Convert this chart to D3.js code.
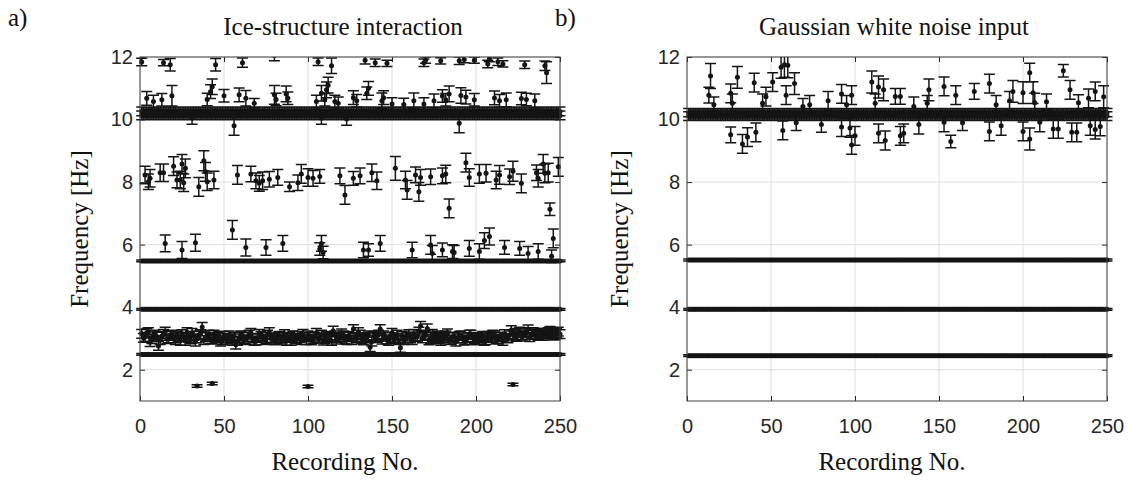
<!DOCTYPE html>
<html>
<head>
<meta charset="utf-8">
<script src="https://cdn.jsdelivr.net/npm/d3@7"></script>
<style>
  body { margin: 0; background: #fff; }
  svg { display: block; }
</style>
</head>
<body>
<svg id="chart" width="1129" height="480"></svg>
<script>
// recordings 1..250 on the x axis
const recordings = d3.range(1, 251);
const xTicks = [0, 50, 100, 150, 200, 250];
const yTicks = [2, 4, 6, 8, 10, 12];

// a) modes that show up in every recording: frequency level and error half-width
// (the 10 Hz band is read as two overlapping levels)
const denseLevelsA = [2.49, 3.93, 5.48, 10.13, 10.26];
const denseErrA = [0.03, 0.03, 0.03, 0.14, 0.14];

// a) scattered 3 Hz mode, odd and even recordings
const mode3OddRecA = d3.range(1, 250, 2);
const mode3OddFreqA = [
  3.15, 3.05, 3.20, 2.98, 3.10, 2.76, 3.08, 3.22, 3.00, 3.12,
  2.95, 3.05, 3.14, 2.92, 3.02, 3.18, 2.90, 3.10, 3.37, 3.04,
  3.12, 2.96, 3.00, 3.08, 2.94, 3.02, 3.10, 2.92, 2.80, 3.00,
  3.06, 2.95, 3.12, 3.00, 2.93, 3.15, 3.04, 2.98, 3.20, 3.02,
  2.96, 3.08, 3.00, 2.92, 3.05, 3.10, 2.97, 3.02, 3.15, 2.95,
  3.05, 2.99, 3.18, 3.00, 2.93, 3.08, 3.02, 3.25, 2.96, 3.04,
  3.10, 2.95, 3.05, 3.30, 3.00, 3.12, 2.94, 3.05, 2.72, 3.08,
  3.02, 3.30, 3.10, 2.96, 3.04, 2.98, 3.12, 2.70, 2.95, 3.06,
  3.00, 3.15, 3.06, 3.40, 3.08, 3.32, 2.98, 3.05, 3.10, 2.92,
  3.02, 3.16, 2.95, 3.06, 3.00, 3.10, 2.93, 3.04, 3.12, 2.97,
  3.05, 3.00, 2.92, 3.08, 3.02, 3.10, 2.96, 3.04, 3.14, 3.00,
  3.27, 3.10, 3.18, 3.06, 3.20, 3.29, 3.12, 3.15, 3.08, 3.18,
  3.12, 3.20, 3.15, 3.10, 3.22
];
const mode3EvenRecA = d3.range(2, 251, 2);
const mode3EvenFreqA = [
  3.02, 3.18, 2.88, 3.12, 3.06, 2.95, 3.15, 2.98, 3.08, 3.00,
  3.10, 2.92, 3.05, 3.20, 2.97, 3.08, 3.00, 3.14, 2.95, 3.06,
  2.98, 3.12, 3.04, 2.90, 3.08, 2.96, 3.00, 3.06, 2.92, 3.10,
  2.97, 3.05, 3.18, 2.92, 3.02, 3.08, 2.95, 3.12, 3.00, 2.94,
  3.06, 2.96, 3.14, 3.02, 2.92, 3.00, 3.08, 2.95, 3.04, 3.10,
  2.94, 3.06, 3.00, 3.12, 2.98, 3.04, 2.92, 3.10, 3.02, 3.16,
  2.98, 3.08, 2.95, 3.04, 3.20, 2.97, 3.02, 3.10, 2.90, 3.05,
  3.12, 2.96, 3.06, 2.92, 3.18, 3.02, 2.95, 3.08, 3.00, 3.14,
  2.95, 3.05, 3.22, 3.00, 3.10, 2.94, 3.15, 3.02, 2.97, 3.06,
  3.10, 2.96, 3.04, 2.90, 3.08, 3.00, 2.95, 3.12, 3.02, 2.94,
  3.00, 3.08, 2.95, 3.04, 3.12, 2.98, 3.06, 2.92, 3.02, 3.10,
  3.14, 3.05, 3.22, 3.10, 3.16, 3.04, 3.20, 3.12, 3.18, 3.08,
  3.16, 3.24, 3.10, 3.18, 3.14
];
const mode3ErrA = 0.14;

// a) [recording, frequency, half-width]
const lowPtsA = [[34, 1.48, 0.04], [43, 1.56, 0.04], [100, 1.46, 0.04], [222, 1.53, 0.04]];

const mode6PtsA = [
  [15, 6.04, 0.27], [25, 5.83, 0.27], [33, 6.06, 0.27], [55, 6.47, 0.3], [63, 5.91, 0.27],
  [75, 5.91, 0.25], [85, 6.04, 0.25], [107, 5.86, 0.2], [108, 6.04, 0.25], [109, 5.75, 0.2],
  [133, 5.83, 0.25], [136, 5.83, 0.2], [143, 6.04, 0.25], [162, 5.83, 0.25], [173, 5.99, 0.3],
  [174, 5.72, 0.25], [180, 5.83, 0.22], [186, 5.78, 0.22], [187, 5.75, 0.22], [196, 5.88, 0.25],
  [202, 5.78, 0.25], [205, 6.13, 0.25], [208, 6.26, 0.27], [217, 5.91, 0.22], [226, 5.88, 0.22],
  [231, 5.72, 0.22], [237, 5.78, 0.25], [245, 5.63, 0.2], [246, 6.2, 0.3]
];

const mode8PtsA = [
  [3, 8.23, 0.28], [5, 8.01, 0.25], [6, 8.12, 0.28], [12, 8.3, 0.28], [14, 8.3, 0.28],
  [20, 8.51, 0.3], [22, 8.07, 0.25], [24, 8.07, 0.28], [25, 8.58, 0.3], [26, 7.98, 0.28],
  [27, 8.44, 0.3], [35, 7.85, 0.3], [38, 8.68, 0.32], [39, 8.33, 0.3], [40, 8.01, 0.28],
  [44, 8.07, 0.28], [58, 8.23, 0.3], [66, 8.26, 0.25], [69, 8.04, 0.25], [71, 7.96, 0.25],
  [73, 8.04, 0.28], [77, 8.09, 0.25], [82, 8.15, 0.25], [89, 7.85, 0.15], [94, 7.98, 0.25],
  [96, 8.26, 0.3], [100, 8.15, 0.28], [103, 8.12, 0.25], [107, 8.18, 0.22], [119, 8.2, 0.25],
  [122, 7.59, 0.3], [127, 8.12, 0.22], [131, 8.2, 0.25], [138, 8.3, 0.28], [141, 8.04, 0.28],
  [152, 8.44, 0.38], [158, 8.07, 0.28], [159, 7.75, 0.3], [164, 8.23, 0.25], [166, 7.69, 0.3],
  [167, 8.15, 0.25], [173, 8.17, 0.25], [180, 8.2, 0.25], [182, 8.26, 0.28], [184, 7.16, 0.3],
  [194, 8.62, 0.3], [196, 8.15, 0.28], [202, 8.26, 0.3], [206, 8.28, 0.28], [212, 8.07, 0.28],
  [214, 8.23, 0.3], [220, 8.17, 0.25], [222, 8.35, 0.32], [227, 7.96, 0.3], [236, 8.3, 0.25],
  [237, 8.12, 0.28], [240, 8.58, 0.3], [241, 8.28, 0.3], [243, 8.3, 0.3], [244, 7.13, 0.2],
  [249, 8.49, 0.3]
];

const mode10PtsA = [
  [4, 10.68, 0.22], [8, 10.58, 0.2], [13, 10.63, 0.2], [19, 10.76, 0.33], [40, 10.64, 0.2],
  [42, 10.89, 0.22], [43, 11.05, 0.25], [50, 10.76, 0.2], [59, 10.79, 0.22], [63, 10.68, 0.25],
  [68, 10.52, 0.15], [80, 10.79, 0.3], [81, 10.64, 0.2], [87, 10.82, 0.25], [88, 10.68, 0.2],
  [105, 10.58, 0.2], [108, 10.84, 0.25], [110, 10.63, 0.2], [111, 10.95, 0.25], [112, 11.1, 0.25],
  [116, 10.58, 0.2], [118, 10.52, 0.2], [127, 10.7, 0.22], [129, 10.6, 0.2], [135, 10.84, 0.2],
  [136, 11.0, 0.22], [144, 10.6, 0.25], [145, 10.7, 0.22], [150, 10.5, 0.2], [157, 10.48, 0.2],
  [163, 10.6, 0.25], [169, 10.5, 0.2], [175, 10.6, 0.22], [180, 10.75, 0.2], [182, 10.63, 0.2],
  [184, 10.82, 0.25], [191, 10.77, 0.25], [194, 10.72, 0.22], [199, 10.63, 0.2], [211, 10.69, 0.22],
  [214, 10.6, 0.2], [218, 10.63, 0.22], [227, 10.67, 0.2], [230, 10.64, 0.2], [235, 10.6, 0.22],
  [31, 10.05, 0.2], [56, 9.8, 0.3], [108, 10.05, 0.2], [123, 10.02, 0.2], [190, 9.88, 0.3]
];

const mode12PtsA = [
  [1, 11.84, 0.12], [14, 11.82, 0.1], [18, 11.75, 0.2], [45, 11.75, 0.2], [61, 11.82, 0.15],
  [80, 12.05, 0.17], [106, 11.85, 0.12], [114, 11.72, 0.25], [134, 11.9, 0.12], [140, 11.82, 0.12],
  [147, 11.8, 0.1], [169, 11.82, 0.12], [170, 11.9, 0.1], [179, 11.88, 0.1], [190, 11.88, 0.12],
  [193, 11.92, 0.1], [199, 11.9, 0.1], [207, 11.78, 0.12], [208, 11.95, 0.1], [213, 11.85, 0.12],
  [216, 11.78, 0.1], [229, 11.75, 0.12], [241, 11.72, 0.15], [242, 11.5, 0.35]
];

// b) modes in every recording
const denseLevelsB = [2.45, 3.93, 5.51, 10.11, 10.22];
const denseErrB = [0.03, 0.03, 0.03, 0.14, 0.13];

// b) scattered estimates around the 10 Hz mode
const mode10PtsB = [
  [13, 10.78, 0.25], [14, 11.39, 0.4], [16, 10.47, 0.25], [26, 10.84, 0.3], [27, 10.52, 0.3],
  [30, 11.35, 0.35], [40, 11.18, 0.3], [45, 10.52, 0.3], [47, 10.73, 0.3], [51, 11.2, 0.3],
  [56, 11.67, 0.35], [58, 11.75, 0.4], [59, 10.78, 0.3], [60, 11.74, 0.4], [64, 11.15, 0.35],
  [69, 10.42, 0.25], [73, 10.47, 0.3], [84, 10.6, 0.3], [92, 10.82, 0.3], [95, 10.47, 0.3],
  [98, 10.78, 0.3], [110, 11.2, 0.35], [112, 10.52, 0.3], [114, 11.04, 0.35], [117, 10.95, 0.35],
  [124, 10.74, 0.25], [127, 10.74, 0.25], [135, 10.42, 0.3], [143, 10.52, 0.25], [144, 10.95, 0.35],
  [153, 11.06, 0.3], [160, 10.78, 0.3], [171, 10.9, 0.25], [180, 11.15, 0.3], [184, 10.47, 0.3],
  [192, 10.6, 0.3], [194, 10.9, 0.35], [200, 10.86, 0.35], [204, 11.5, 0.3], [206, 10.86, 0.35],
  [207, 10.54, 0.3], [214, 10.57, 0.25], [224, 11.56, 0.2], [228, 10.95, 0.3], [233, 10.54, 0.25],
  [239, 10.68, 0.3], [243, 10.9, 0.3], [248, 10.73, 0.35],
  [26, 9.51, 0.25], [33, 9.22, 0.3], [36, 9.44, 0.3], [41, 9.59, 0.3], [57, 9.65, 0.3],
  [65, 9.9, 0.25], [80, 9.84, 0.25], [92, 9.76, 0.3], [97, 9.73, 0.3], [98, 9.19, 0.3],
  [100, 9.48, 0.3], [114, 9.56, 0.3], [118, 9.33, 0.3], [127, 9.48, 0.3], [129, 9.56, 0.3],
  [138, 9.84, 0.3], [153, 9.91, 0.3], [157, 9.3, 0.2], [164, 9.9, 0.25], [180, 9.62, 0.3],
  [187, 9.8, 0.3], [200, 9.62, 0.3], [204, 9.38, 0.35], [210, 9.91, 0.3], [218, 9.7, 0.3],
  [221, 9.7, 0.3], [229, 9.59, 0.3], [232, 9.59, 0.3], [240, 9.8, 0.3], [243, 9.68, 0.3],
  [246, 9.78, 0.3]
];

const svg = d3.select('#chart');
const plotTop = 57;
const plotBottom = 401;
const plotWidth = 420;
const ink = '#141414';
const serif = '"Liberation Serif", "Times New Roman", serif';
const sans = '"Liberation Sans", Arial, sans-serif';

function errorBars(g, pts, x, y) {
  const cap = 5.5;
  const p = d3.path();
  pts.forEach(([r, f, e]) => {
    const px = x(r), y1 = y(f - e), y2 = y(f + e);
    p.moveTo(px, y1); p.lineTo(px, y2);
    p.moveTo(px - cap, y1); p.lineTo(px + cap, y1);
    p.moveTo(px - cap, y2); p.lineTo(px + cap, y2);
  });
  g.append('path')
    .attr('d', p.toString())
    .attr('fill', 'none')
    .attr('stroke', ink)
    .attr('stroke-width', 1.5);
  g.append('g').selectAll('circle')
    .data(pts)
    .join('circle')
    .attr('cx', d => x(d[0]))
    .attr('cy', d => y(d[1]))
    .attr('r', 2.5)
    .attr('fill', ink);
}

function drawPanel(cfg) {
  const x = d3.scaleLinear().domain([0, 250]).range([cfg.left, cfg.left + plotWidth]);
  const y = d3.scaleLinear().domain([1, 12]).range([plotBottom, plotTop]);
  const g = svg.append('g');

  // grid
  g.append('g').selectAll('line')
    .data(xTicks)
    .join('line')
    .attr('x1', d => x(d)).attr('x2', d => x(d))
    .attr('y1', plotTop).attr('y2', plotBottom)
    .attr('stroke', '#dedede');
  g.append('g').selectAll('line')
    .data(yTicks)
    .join('line')
    .attr('x1', x(0)).attr('x2', x(250))
    .attr('y1', d => y(d)).attr('y2', d => y(d))
    .attr('stroke', '#dedede');

  // data, clipped vertically to the axes
  const clipId = 'clip-' + cfg.id;
  svg.append('clipPath').attr('id', clipId)
    .append('rect')
    .attr('x', cfg.left - 8).attr('y', plotTop)
    .attr('width', plotWidth + 16).attr('height', plotBottom - plotTop);
  const data = g.append('g').attr('clip-path', `url(#${clipId})`);
  cfg.dense.levels.forEach((lvl, i) => {
    errorBars(data, recordings.map(r => [r, lvl, cfg.dense.errs[i]]), x, y);
  });
  cfg.series.forEach(pts => errorBars(data, pts, x, y));

  // axes with inward ticks on all four sides
  const styleAxis = sel => {
    sel.select('.domain').remove();
    sel.selectAll('.tick line').attr('stroke', '#262626');
    sel.selectAll('.tick text')
      .attr('fill', '#262626')
      .attr('font-family', sans)
      .attr('font-size', 20);
  };
  g.append('g')
    .attr('transform', `translate(0,${plotBottom})`)
    .call(d3.axisBottom(x).tickValues(xTicks).tickSize(-5).tickPadding(18))
    .call(styleAxis);
  g.append('g')
    .attr('transform', `translate(0,${plotTop})`)
    .call(d3.axisTop(x).tickValues(xTicks).tickSize(-5).tickFormat(''))
    .call(styleAxis);
  g.append('g')
    .attr('transform', `translate(${cfg.left},0)`)
    .call(d3.axisLeft(y).tickValues(yTicks).tickSize(-5).tickPadding(7))
    .call(styleAxis);
  g.append('g')
    .attr('transform', `translate(${cfg.left + plotWidth},0)`)
    .call(d3.axisRight(y).tickValues(yTicks).tickSize(-5).tickFormat(''))
    .call(styleAxis);

  g.append('rect')
    .attr('x', cfg.left).attr('y', plotTop)
    .attr('width', plotWidth).attr('height', plotBottom - plotTop)
    .attr('fill', 'none')
    .attr('stroke', '#404040')
    .attr('stroke-width', 1);

  // texts
  g.append('text')
    .attr('x', cfg.letterX).attr('y', 26)
    .attr('font-family', serif).attr('font-size', 25).attr('fill', '#111')
    .text(cfg.letter);
  g.append('text')
    .attr('x', cfg.titleX).attr('y', 35)
    .attr('text-anchor', 'middle')
    .attr('font-family', serif).attr('font-size', 25).attr('fill', '#111')
    .text(cfg.title);
  g.append('text')
    .attr('transform', `translate(${cfg.ylabelX},${(plotTop + plotBottom) / 2}) rotate(-90)`)
    .attr('text-anchor', 'middle')
    .attr('font-family', serif).attr('font-size', 25).attr('fill', '#111')
    .text('Frequency [Hz]');
  g.append('text')
    .attr('x', cfg.left + plotWidth / 2 - 5).attr('y', 470)
    .attr('text-anchor', 'middle')
    .attr('font-family', serif).attr('font-size', 25).attr('fill', '#111')
    .text('Recording No.');
}

drawPanel({
  id: 'a', left: 140, letter: 'a)', letterX: 8, titleX: 343, ylabelX: 88,
  title: 'Ice-structure interaction',
  dense: { levels: denseLevelsA, errs: denseErrA },
  series: [
    mode3OddRecA.map((r, i) => [r, mode3OddFreqA[i], mode3ErrA]),
    mode3EvenRecA.map((r, i) => [r, mode3EvenFreqA[i], mode3ErrA]),
    lowPtsA, mode6PtsA, mode8PtsA, mode10PtsA, mode12PtsA
  ]
});

drawPanel({
  id: 'b', left: 687, letter: 'b)', letterX: 555, titleX: 894, ylabelX: 628,
  title: 'Gaussian white noise input',
  dense: { levels: denseLevelsB, errs: denseErrB },
  series: [mode10PtsB]
});
</script>
</body>
</html>
